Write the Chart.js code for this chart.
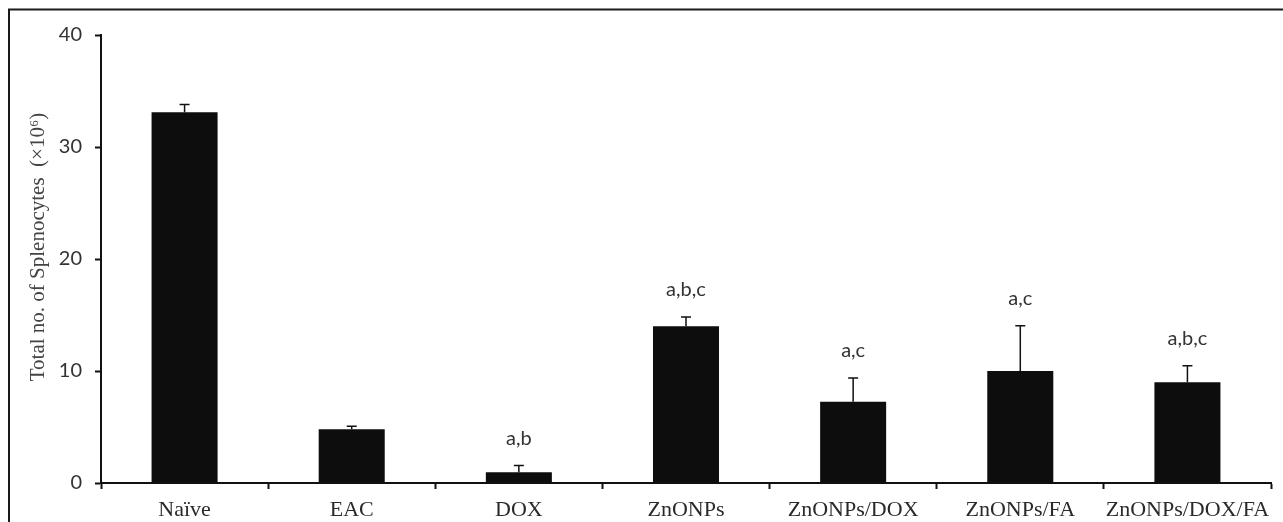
<!DOCTYPE html>
<html>
<head>
<meta charset="utf-8">
<script src="https://cdn.jsdelivr.net/npm/chart.js@4.4.1/dist/chart.umd.min.js"></script>
<style>
  html, body { margin: 0; padding: 0; background: #ffffff; }
  #wrap { width: 1283px; height: 522px; }
</style>
</head>
<body>
<div id="wrap"><canvas id="c" width="1283" height="522"></canvas></div>
<script>
// Treatment groups
const groups = ['Naïve', 'EAC', 'DOX', 'ZnONPs', 'ZnONPs/DOX', 'ZnONPs/FA', 'ZnONPs/DOX/FA'];
// Mean total splenocytes (×10^6)
const means = [33.1, 4.8, 0.96, 14.0, 7.25, 10.0, 9.0];
// Standard error (upper whisker only)
const sems = [0.7, 0.26, 0.6, 0.82, 2.13, 4.05, 1.46];
// Significance letters above each group
const sigLetters = ['', '', 'a,b', 'a,b,c', 'a,c', 'a,c', 'a,b,c'];
// Y axis ticks and title
const yTicks = [0, 10, 20, 30, 40];
const yTitle = 'Total no. of Splenocytes  (×10⁶)';

const frame = {
  id: 'frame',
  beforeDraw(chart) {
    const ctx = chart.ctx;
    ctx.save();
    ctx.fillStyle = '#ffffff';
    ctx.fillRect(0, 0, chart.width, chart.height);
    ctx.strokeStyle = '#1a1a1a';
    ctx.lineWidth = 2;
    ctx.beginPath();
    ctx.moveTo(9, chart.height + 2);
    ctx.lineTo(9, 9.5);
    ctx.lineTo(chart.width + 2, 9.5);
    ctx.stroke();
    // rotated y-axis title, centred a little above the plot middle
    ctx.translate(38, 247);
    ctx.rotate(-Math.PI / 2);
    ctx.fillStyle = '#444';
    ctx.font = '21px "Liberation Serif", "Times New Roman", serif';
    ctx.textAlign = 'center';
    ctx.textBaseline = 'middle';
    ctx.fillText(yTitle, 0, 0);
    ctx.restore();
  }
};

const errorBars = {
  id: 'errorBars',
  afterDatasetsDraw(chart) {
    const ctx = chart.ctx;
    const y = chart.scales.y;
    const meta = chart.getDatasetMeta(0);
    ctx.save();
    ctx.strokeStyle = '#111';
    ctx.lineWidth = 1.5;
    meta.data.forEach((bar, i) => {
      const x = bar.x;
      const yTop = y.getPixelForValue(means[i] + sems[i]);
      const yMean = y.getPixelForValue(means[i]);
      ctx.beginPath();
      ctx.moveTo(x, yMean);
      ctx.lineTo(x, yTop);
      ctx.moveTo(x - 5, yTop);
      ctx.lineTo(x + 5, yTop);
      ctx.stroke();
      if (sigLetters[i]) {
        ctx.fillStyle = '#333';
        ctx.font = '20px Lato';
        ctx.textAlign = 'center';
        ctx.textBaseline = 'middle';
        ctx.fillText(sigLetters[i], x, yTop - 27);
      }
    });
    ctx.restore();
  }
};

new Chart(document.getElementById('c'), {
  type: 'bar',
  data: {
    labels: groups,
    datasets: [{
      data: means,
      backgroundColor: '#0d0d0d',
      borderWidth: 0,
      barPercentage: 0.395,
      categoryPercentage: 1.0
    }]
  },
  options: {
    responsive: false,
    animation: false,
    events: [],
    layout: { padding: { top: 35, right: 12, left: 14, bottom: 0 } },
    plugins: { legend: { display: false }, tooltip: { enabled: false } },
    scales: {
      x: {
        afterFit(s) { s.height = 39; },
        border: { color: '#111', width: 2 },
        grid: { drawOnChartArea: false, drawTicks: true, tickLength: 6, tickWidth: 2, tickColor: '#111', offset: true },
        ticks: {
          color: '#2a2a2a',
          font: { family: '"Liberation Serif", "Times New Roman", serif', size: 22 },
          maxRotation: 0, autoSkip: false, padding: 8
        }
      },
      y: {
        min: 0, max: 40,
        afterFit(s) { s.width = 87; },
        afterBuildTicks(s) { s.ticks = yTicks.map(v => ({ value: v })); },
        border: { color: '#111', width: 2 },
        grid: { drawOnChartArea: false, drawTicks: true, tickLength: 6, tickWidth: 2, tickColor: '#111' },
        ticks: {
          color: '#333',
          font: { family: 'Lato, "Liberation Sans", sans-serif', size: 20 },
          padding: 13
        },
        title: { display: false }
      }
    }
  },
  plugins: [frame, errorBars]
});
</script>
</body>
</html>
